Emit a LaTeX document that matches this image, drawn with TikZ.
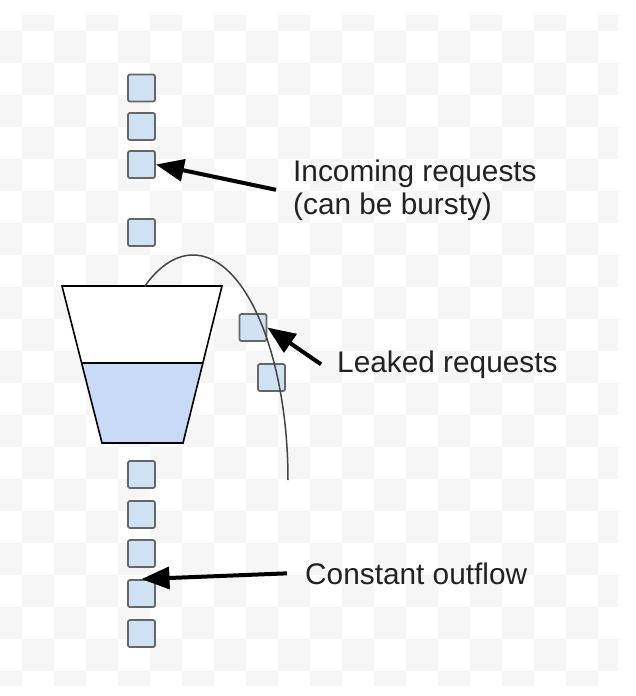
\documentclass[tikz,border=0pt]{standalone}
\usepackage{fontspec}
\setmainfont{Liberation Sans}
\usetikzlibrary{arrows.meta}
\definecolor{chk}{HTML}{F6F6F6}
\definecolor{sqfill}{HTML}{CFE2F3}
\definecolor{sqline}{HTML}{666666}
\definecolor{water}{HTML}{C9DAF8}
\definecolor{txt}{HTML}{222222}
\definecolor{curvecol}{HTML}{444444}
\begin{document}
\begin{tikzpicture}[x=1pt,y=-1pt,
  req/.style={draw=sqline, fill=sqfill, line width=1.8pt, rounded corners=2pt, minimum size=27pt, inner sep=0pt},
  lbl/.style={font=\fontsize{29.8}{33}\selectfont, text=txt, inner sep=0pt, align=left},
  arr/.style={line width=4pt, -{Triangle[length=28pt,width=22pt]}},
  bucketline/.style={line width=1.6pt, line join=miter},
  curve/.style={draw=curvecol, line width=1.5pt},
  ]
\useasboundingbox (0,0) rectangle (636,696);
\fill[white] (0,0) rectangle (636,696);
\begin{scope}
\clip (0,15) rectangle (618,685);
\foreach \i in {-1,...,18}{
 \foreach \j in {-1,...,20}{
  \pgfmathtruncatemacro\p{mod(\i+\j+4,2)}
  \ifnum\p=1 \fill[chk] ({22+32*\i},{31+32*\j}) rectangle +(32,32);\fi
 }}
\end{scope}
% bucket
\fill[white] (62,286) -- (222,286) -- (183,443) -- (102,443) -- cycle;
\fill[water] (81.6,363) -- (202.4,363) -- (183,443) -- (102,443) -- cycle;
\draw[bucketline] (81.6,363) -- (202.4,363);
\draw[bucketline] (62,286) -- (222,286) -- (183,443) -- (102,443) -- cycle;
% incoming requests
\node[req] (s1) at (141.5,88) {};
\node[req] (s2) at (141.5,126.5) {};
\node[req] (s3) at (141.5,164.5) {};
\node[req] (s4) at (141.5,232.5) {};
% outflow
\node[req] (b1) at (141.5,474.5) {};
\node[req] (b2) at (141.5,514.5) {};
\node[req] (b3) at (141.5,553.5) {};
\node[req] (b4) at (141.5,593.5) {};
\node[req] (b5) at (141.5,633.5) {};
% leaked
\node[req] (la) at (253,327.5) {};
\node[req] (lb) at (271.5,377.5) {};
% overflow curve
\draw[curve] plot[domain=-120.44:0,samples=90] ({193+95*cos(\x)},{480+225*sin(\x)});
% labels
\node[lbl, anchor=base west] (inc) at (293,214) {Incoming requests\\(can be bursty)};
\node[lbl, anchor=base west] (leak) at (337,372) {Leaked requests};
\node[lbl, anchor=base west] (cons) at (305,584) {Constant outflow};
% arrows
\draw[arr] ([xshift=-17pt]inc.west) -- (s3.east);
\draw[arr] ([xshift=-16pt]leak.west) -- (la.east);
\draw[arr] ([xshift=-18pt]cons.west) -- (b4.north);
\end{tikzpicture}
\end{document}
